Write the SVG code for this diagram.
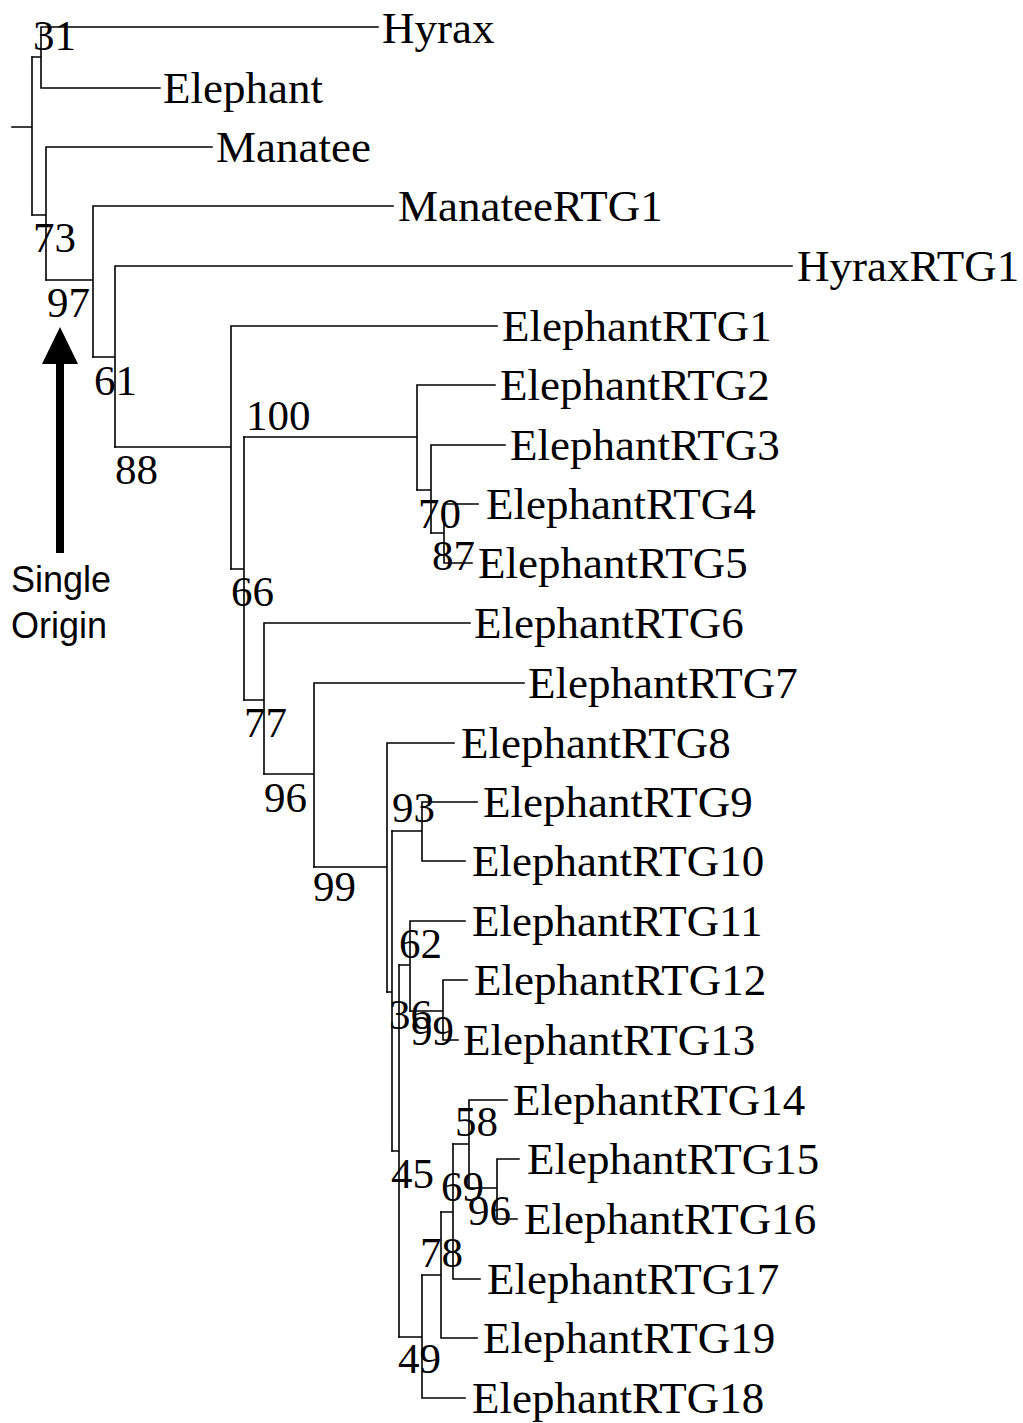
<svg xmlns="http://www.w3.org/2000/svg" width="1023" height="1423" viewBox="0 0 1023 1423">
<style>
.br{fill:none;stroke:#000;stroke-width:1.6;stroke-linecap:square}
.lf{font-family:"Liberation Serif","Times New Roman",serif;font-size:45px;fill:#000}
.bs{font-family:"Liberation Serif","Times New Roman",serif;font-size:43px;fill:#000}
.an{font-family:"Liberation Sans",Arial,sans-serif;font-size:36px;fill:#000}
</style>
<rect width="1023" height="1423" fill="#fff"/>
<g id="connectors" class="br">
<path d="M12 127H32M32 57V215"/>
<path d="M32 57H41M41 27V88M41 27H378M41 88H160"/>
<path d="M32 215H46M46 147V280M46 147H212"/>
<path d="M46 280H93M93 206V357M93 206H393"/>
<path d="M93 357H115M115 266V447M115 266H792"/>
<path d="M115 447H231M231 326V569M231 326H497"/>
<path d="M231 569H244M244 437V700"/>
<path d="M244 437H417M417 385V490M417 385H495"/>
<path d="M417 490H431M431 445V533M431 445H505"/>
<path d="M431 533H444M444 504V563M444 504H478M444 563H472"/>
<path d="M244 700H264M264 623V774M264 623H470"/>
<path d="M264 774H314M314 683V867M314 683H524"/>
<path d="M314 867H387M387 743V992M387 743H454"/>
<path d="M387 992H392M392 831V1151"/>
<path d="M392 831H422M422 802V861M422 802H477M422 861H465"/>
<path d="M392 1151H399M399 965V1337"/>
<path d="M399 965H410M410 921V1011M410 921H465"/>
<path d="M410 1011H443M443 980V1040M443 980H467M443 1040H458"/>
<path d="M399 1337H422M422 1275V1398M422 1398H465"/>
<path d="M422 1275H441M441 1212V1338M441 1338H477"/>
<path d="M441 1212H453M453 1144V1279M453 1279H480"/>
<path d="M453 1144H469M469 1100V1188M469 1100H507"/>
<path d="M469 1188H497M497 1159V1219M497 1159H519M497 1219H517"/>
</g>
<g id="leaves" class="lf">
<g id="leaf-hyrax"><text x="382" y="43">Hyrax</text></g>
<g id="leaf-elephant"><text x="163" y="103">Elephant</text></g>
<g id="leaf-manatee"><text x="216" y="162">Manatee</text></g>
<g id="leaf-manateertg1"><text x="398" y="221">ManateeRTG1</text></g>
<g id="leaf-hyraxrtg1"><text x="797" y="281">HyraxRTG1</text></g>
<g id="leaf-ertg1"><text x="502" y="341">ElephantRTG1</text></g>
<g id="leaf-ertg2"><text x="500" y="400">ElephantRTG2</text></g>
<g id="leaf-ertg3"><text x="510" y="460">ElephantRTG3</text></g>
<g id="leaf-ertg4"><text x="486" y="519">ElephantRTG4</text></g>
<g id="leaf-ertg5"><text x="478" y="578">ElephantRTG5</text></g>
<g id="leaf-ertg6"><text x="474" y="638">ElephantRTG6</text></g>
<g id="leaf-ertg7"><text x="528" y="698">ElephantRTG7</text></g>
<g id="leaf-ertg8"><text x="461" y="758">ElephantRTG8</text></g>
<g id="leaf-ertg9"><text x="483" y="817">ElephantRTG9</text></g>
<g id="leaf-ertg10"><text x="472" y="876">ElephantRTG10</text></g>
<g id="leaf-ertg11"><text x="472" y="936">ElephantRTG11</text></g>
<g id="leaf-ertg12"><text x="474" y="995">ElephantRTG12</text></g>
<g id="leaf-ertg13"><text x="463" y="1055">ElephantRTG13</text></g>
<g id="leaf-ertg14"><text x="513" y="1115">ElephantRTG14</text></g>
<g id="leaf-ertg15"><text x="527" y="1174">ElephantRTG15</text></g>
<g id="leaf-ertg16"><text x="524" y="1234">ElephantRTG16</text></g>
<g id="leaf-ertg17"><text x="487" y="1294">ElephantRTG17</text></g>
<g id="leaf-ertg19"><text x="483" y="1353">ElephantRTG19</text></g>
<g id="leaf-ertg18"><text x="472" y="1413">ElephantRTG18</text></g>
</g>
<g id="supports" class="bs">
<g id="n31"><text x="33" y="50">31</text></g>
<g id="n73"><text x="33" y="252">73</text></g>
<g id="n97"><text x="47" y="317">97</text></g>
<g id="n61"><text x="94" y="395">61</text></g>
<g id="n88"><text x="115" y="484">88</text></g>
<g id="n100"><text x="246" y="430">100</text></g>
<g id="n66"><text x="231" y="606">66</text></g>
<g id="n70"><text x="418" y="528">70</text></g>
<g id="n87"><text x="432" y="570">87</text></g>
<g id="n77"><text x="244" y="737">77</text></g>
<g id="n96"><text x="264" y="812">96</text></g>
<g id="n99"><text x="313" y="901">99</text></g>
<g id="n93"><text x="392" y="822">93</text></g>
<g id="n62"><text x="399" y="958">62</text></g>
<g id="n36"><text x="389" y="1029">36</text></g>
<g id="n99b"><text x="411" y="1045">99</text></g>
<g id="n58"><text x="455" y="1136">58</text></g>
<g id="n45"><text x="391" y="1188">45</text></g>
<g id="n69"><text x="441" y="1201">69</text></g>
<g id="n96b"><text x="468" y="1225">96</text></g>
<g id="n78"><text x="420" y="1267">78</text></g>
<g id="n49"><text x="398" y="1373">49</text></g>
</g>
<g id="single-origin">
<path d="M56 553V364H42L60 327L78 364H64V553Z" fill="#000"/>
<text class="an" x="11" y="592">Single</text>
<text class="an" x="11" y="638">Origin</text>
</g>
</svg>
